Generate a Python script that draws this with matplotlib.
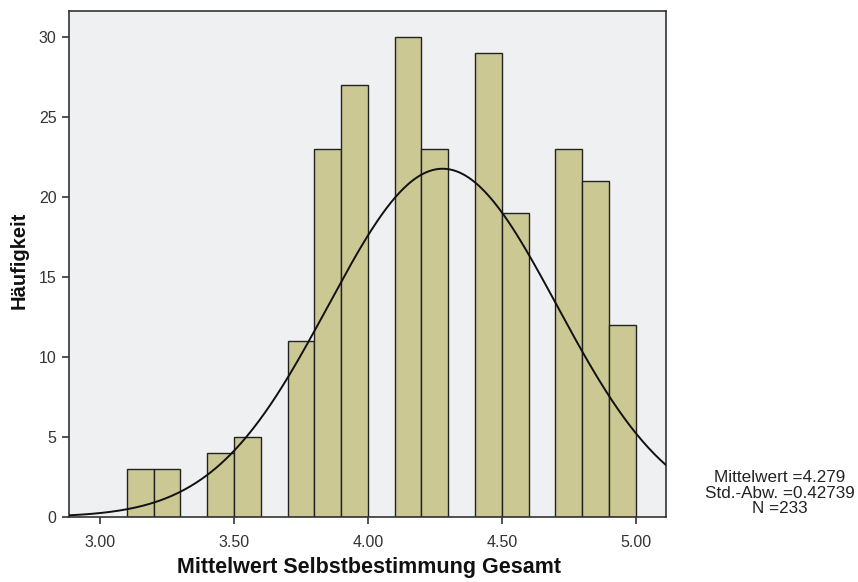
import numpy as np
import matplotlib
matplotlib.use("Agg")
import matplotlib.pyplot as plt

plt.rcParams['font.family'] = ['Liberation Sans', 'DejaVu Sans']

bin_left = [3.1, 3.2, 3.4, 3.5, 3.7, 3.8, 3.9, 4.1, 4.2, 4.4, 4.5, 4.7, 4.8, 4.9]
counts = [3, 3, 4, 5, 11, 23, 27, 30, 23, 29, 19, 23, 21, 12]
bin_width = 0.1
mean = 4.279
std = 0.42739
n = 233
x_ticks = [3.0, 3.5, 4.0, 4.5, 5.0]
y_ticks = [0, 5, 10, 15, 20, 25, 30]

fig = plt.figure(figsize=(8.58, 5.82), dpi=100)
ax = fig.add_axes([69/858, 1-517/582, (666-69)/858, (517-11)/582])
ax.set_facecolor('#EFF0F2')

ax.bar(bin_left, counts, width=bin_width, align='edge', color='#CCC894',
       edgecolor='#222222', linewidth=1.0, zorder=2)

xlo, xhi = 2.884, 5.113
xs = np.linspace(xlo, xhi, 400)
ys = n * bin_width / (std * np.sqrt(2 * np.pi)) * np.exp(-0.5 * ((xs - mean) / std) ** 2)
ax.plot(xs, ys, color='#111111', linewidth=1.4, zorder=3)

ax.set_xlim(xlo, xhi)
ax.set_ylim(0, 31.6)
ax.set_xticks(x_ticks)
ax.set_xticklabels([f"{t:.2f}" for t in x_ticks])
ax.set_yticks(y_ticks)
ax.tick_params(axis='both', direction='out', length=5, width=1.2, color='#333333',
               labelsize=11.5, labelcolor='#333333')
ax.tick_params(axis='x', pad=8)
ax.tick_params(axis='y', pad=4)
for s in ax.spines.values():
    s.set_color('#333333')
    s.set_linewidth(1.2)

ax.set_xlabel('Mittelwert Selbstbestimmung Gesamt', fontsize=15.5, fontweight='bold',
              color='#111111')
ax.xaxis.set_label_coords((369 - 69) / (666 - 69), -(568 - 517) / (517 - 11), transform=ax.transAxes)
ax.xaxis.label.set_va('center')
ax.set_ylabel('Häufigkeit', fontsize=14.5, fontweight='bold', color='#111111')
ax.yaxis.set_label_coords(-(69 - 19) / (666 - 69), (517 - 260) / (517 - 11), transform=ax.transAxes)
ax.yaxis.label.set_va('center')

fig.text(780/858, 1-493/582, f"Mittelwert ={mean}\nStd.-Abw. ={std}\nN ={n}",
         ha='center', va='center', fontsize=12.3, color='#222222', linespacing=1.08)

fig.savefig('out.png', dpi=100)
